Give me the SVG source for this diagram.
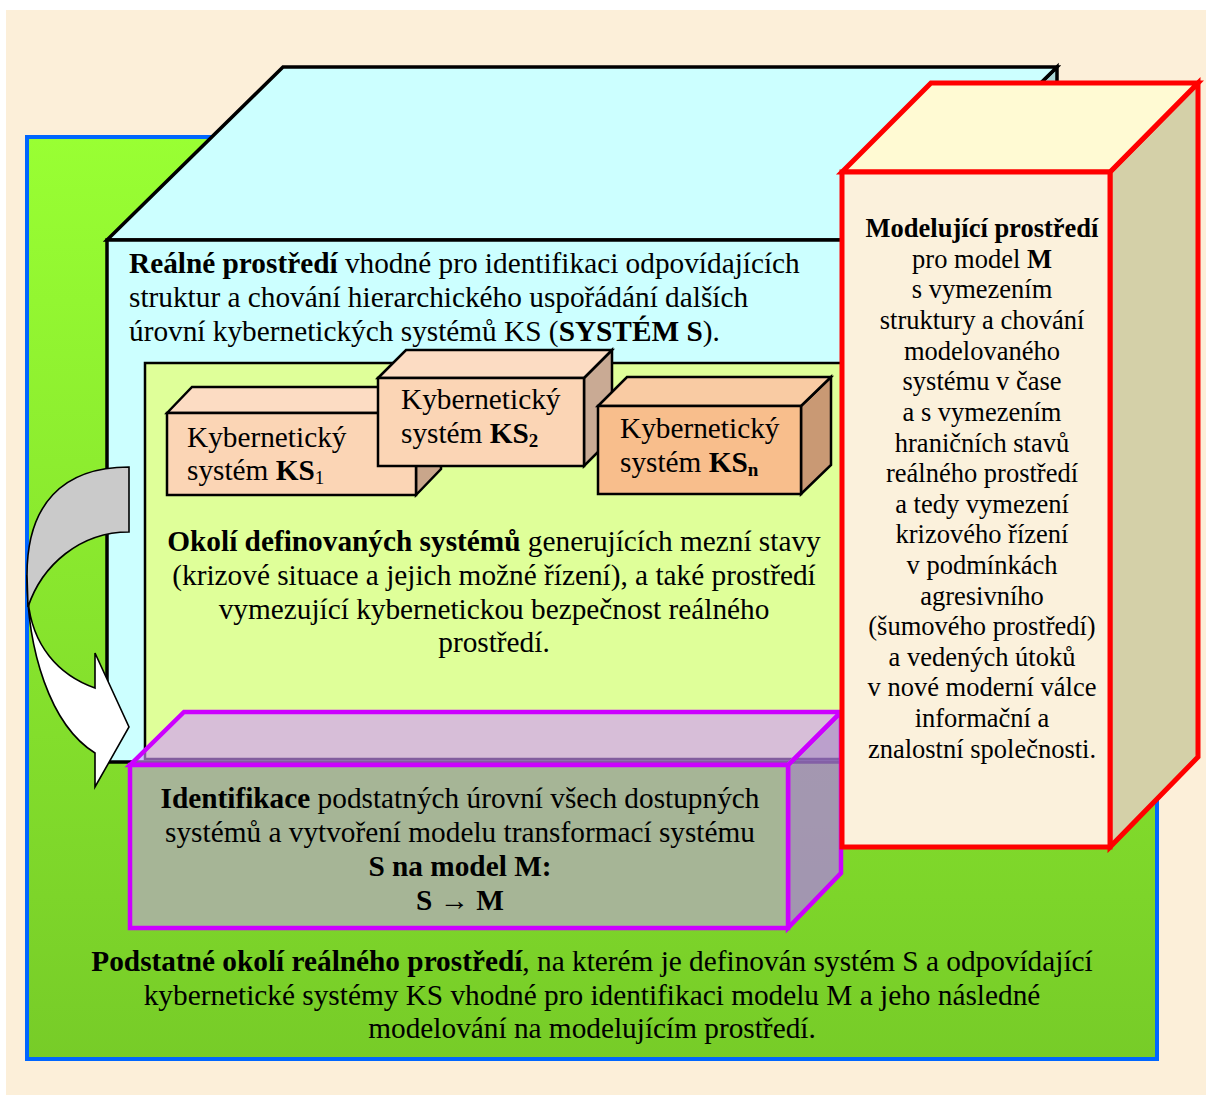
<svg xmlns="http://www.w3.org/2000/svg" width="1206" height="1095" viewBox="0 0 1206 1095">
  <defs>
    <linearGradient id="greenGrad" x1="0" y1="0" x2="0" y2="1">
      <stop offset="0" stop-color="#99FF33"/>
      <stop offset="1" stop-color="#77CC28"/>
    </linearGradient>
  </defs>
  <style>
    text { font-family: "Liberation Serif", "Times New Roman", serif; fill: #000; }
    .t { font-size: 29.3px; }
    .r { font-size: 26.5px; }
    .c { text-anchor: middle; }
    .b { font-weight: bold; }
    .sub { font-size: 19px; }
    .edge { stroke: #000; stroke-width: 3.5; stroke-linejoin: miter; }
    .ks { stroke: #000; stroke-width: 2.5; stroke-linejoin: miter; }
    .purple { stroke: #CC00FF; stroke-width: 4.5; stroke-linejoin: miter; }
    .red { stroke: #FF0000; stroke-width: 5; stroke-linejoin: miter; }
  </style>

  <!-- parchment page -->
  <rect x="0" y="0" width="1206" height="1095" fill="#FFFFFF"/>
  <rect x="6" y="10" width="1200" height="1085" fill="#FCEFD9"/>

  <!-- outer green environment -->
  <g id="essential-surroundings">
    <rect x="27" y="137" width="1130" height="922" fill="url(#greenGrad)" stroke="#0066FF" stroke-width="4"/>
    <text class="t c" x="592" y="971"><tspan class="b">Podstatné okolí reálného prostředí</tspan>, na kterém je definován systém S a odpovídající</text>
    <text class="t c" x="592" y="1005">kybernetické systémy KS vhodné pro identifikaci modelu M a jeho následné</text>
    <text class="t c" x="592" y="1038">modelování na modelujícím prostředí.</text>
  </g>

  <!-- real environment (cyan cube) -->
  <g id="real-environment">
    <polygon class="edge" points="881,240 1057,67 1057,589 881,762" fill="#A9D6D6"/>
    <polygon class="edge" points="107,240 283,67 1057,67 881,240" fill="#CCFFFF"/>
    <rect class="edge" x="107" y="240" width="774" height="522" fill="#CCFFFF"/>
    <text class="t" x="129" y="273"><tspan class="b">Reálné prostředí</tspan> vhodné pro identifikaci odpovídajících</text>
    <text class="t" x="129" y="307">struktur a chování hierarchického uspořádání dalších</text>
    <text class="t" x="129" y="341">úrovní kybernetických systémů KS (<tspan class="b">SYSTÉM S</tspan>).</text>
  </g>

  <!-- surroundings of defined systems -->
  <g id="defined-systems-surroundings">
    <rect x="145" y="363" width="730" height="396" fill="#DFFF99" stroke="#000" stroke-width="2.5"/>
    <text class="t c" x="494" y="551"><tspan class="b">Okolí definovaných systémů</tspan> generujících mezní stavy</text>
    <text class="t c" x="494" y="585">(krizové situace a jejich možné řízení), a také prostředí</text>
    <text class="t c" x="494" y="619">vymezující kybernetickou bezpečnost reálného</text>
    <text class="t c" x="494" y="652">prostředí.</text>
  </g>

  <!-- cybernetic system KS1 -->
  <g id="ks1">
    <polygon class="ks" points="416,413 441,387 441,469 416,495" fill="#C9A68B"/>
    <polygon class="ks" points="167,413 192,387 441,387 416,413" fill="#FCDCC3"/>
    <rect class="ks" x="167" y="413" width="249" height="82" fill="#FBD5B5"/>
    <text class="t" x="187" y="447">Kybernetický</text>
    <text class="t" x="187" y="480">systém <tspan class="b">KS</tspan><tspan class="sub" dy="4">1</tspan></text>
  </g>

  <!-- cybernetic system KS2 -->
  <g id="ks2">
    <polygon class="ks" points="584,378 612,350 612,438 584,466" fill="#C9AA94"/>
    <polygon class="ks" points="378,378 406,350 612,350 584,378" fill="#FCDCC3"/>
    <rect class="ks" x="378" y="378" width="206" height="88" fill="#FBD5B5"/>
    <text class="t" x="401" y="409">Kybernetický</text>
    <text class="t" x="401" y="443">systém <tspan class="b">KS</tspan><tspan class="b sub" dy="4">2</tspan></text>
  </g>

  <!-- cybernetic system KSn -->
  <g id="ksn">
    <polygon class="ks" points="801,406 831,377 831,465 801,494" fill="#C99974"/>
    <polygon class="ks" points="598,406 627,377 831,377 801,406" fill="#F9CBA3"/>
    <rect class="ks" x="598" y="406" width="203" height="88" fill="#F8BE8C"/>
    <text class="t" x="620" y="438">Kybernetický</text>
    <text class="t" x="620" y="472">systém <tspan class="b">KS</tspan><tspan class="b sub" dy="4">n</tspan></text>
  </g>

  <!-- curved transfer arrow -->
  <g id="connectors">
    <path d="M27,575 C27,650 50,725 95,753 L95,787 L129,727 L95,653 L95,688 C58,675 32,645 28,600 Z" fill="#FFFFFF" stroke="#000" stroke-width="1.6" stroke-linejoin="miter"/>
    <path d="M129,467 C62,467 27,505 27,575 L28,607 C42,565 80,532 129,532 Z" fill="#CACACA" stroke="#000" stroke-width="1.6" stroke-linejoin="miter"/>
  </g>

  <!-- identification box (translucent purple cube) -->
  <g id="identification">
    <polygon class="purple" points="788,765 841,712 841,873 788,928" fill="rgb(175,128,221)" fill-opacity="0.75"/>
    <polygon class="purple" points="130,765 184,712 841,712 788,765" fill="rgb(210,150,255)" fill-opacity="0.62"/>
    <rect class="purple" x="130" y="765" width="658" height="163" fill="#A6B596"/>
    <text class="t c" x="460" y="808"><tspan class="b">Identifikace</tspan> podstatných úrovní všech dostupných</text>
    <text class="t c" x="460" y="842">systémů a vytvoření modelu transformací systému</text>
    <text class="t c b" x="460" y="876">S na model M:</text>
    <text class="t c b" x="460" y="910">S → M</text>
  </g>

  <!-- modelling environment (red cube) -->
  <g id="modelling-environment">
    <polygon class="red" points="1110,172 1198,83 1198,757 1110,847" fill="#D4D0A8"/>
    <polygon class="red" points="842,172 931,83 1198,83 1110,172" fill="#FFFAD3"/>
    <rect class="red" x="842" y="172" width="268" height="675" fill="#FBF1DC"/>
    <text class="r c" x="982" y="237"><tspan class="b">Modelující prostředí</tspan></text>
    <text class="r c" x="982" y="268">pro model <tspan class="b">M</tspan></text>
    <text class="r c" x="982" y="298">s vymezením</text>
    <text class="r c" x="982" y="329">struktury a chování</text>
    <text class="r c" x="982" y="360">modelovaného</text>
    <text class="r c" x="982" y="390">systému v čase</text>
    <text class="r c" x="982" y="421">a s vymezením</text>
    <text class="r c" x="982" y="452">hraničních stavů</text>
    <text class="r c" x="982" y="482">reálného prostředí</text>
    <text class="r c" x="982" y="513">a tedy vymezení</text>
    <text class="r c" x="982" y="543">krizového řízení</text>
    <text class="r c" x="982" y="574">v podmínkách</text>
    <text class="r c" x="982" y="605">agresivního</text>
    <text class="r c" x="982" y="635">(šumového prostředí)</text>
    <text class="r c" x="982" y="666">a vedených útoků</text>
    <text class="r c" x="982" y="696">v nové moderní válce</text>
    <text class="r c" x="982" y="727">informační a</text>
    <text class="r c" x="982" y="758">znalostní společnosti.</text>
  </g>
</svg>
